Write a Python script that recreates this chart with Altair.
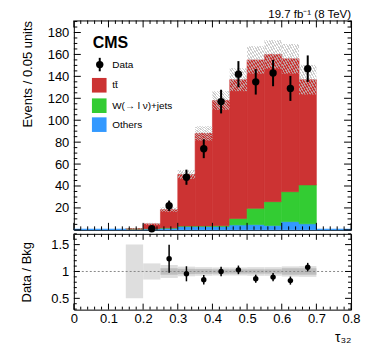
import altair as alt
import pandas as pd

# ---------------- data ----------------
bin_lo = [0.15, 0.20, 0.25, 0.30, 0.35, 0.40, 0.45, 0.50, 0.55, 0.60, 0.65]
others = [0.7, 1.0, 1.5, 3.0, 3.0, 3.0, 4.5, 4.8, 4.0, 7.5, 5.5]
wjets = [0.0, 0.0, 0.3, 0.5, 0.6, 0.8, 5.8, 14.8, 21.7, 27.3, 35.5]
ttbar = [0.3, 4.5, 16.7, 47.0, 84.4, 114.2, 126.7, 135.4, 134.3, 121.2, 96.0]
mc_unc = [0.5, 0.9, 2.0, 4.0, 6.5, 8.5, 10.5, 12.5, 13.0, 13.5, 13.5]

side_lo = [0.00, 0.05, 0.10, 0.70, 0.75]
side_others = [0.7, 0.7, 0.7, 0.7, 0.7]

data_x = [0.225, 0.275, 0.325, 0.375, 0.425, 0.475, 0.525, 0.575, 0.625, 0.675]
data_y = [1, 22, 48, 74, 117, 142, 135, 143, 129, 147]
data_err = [1.0, 4.7, 6.9, 8.6, 10.8, 11.9, 11.6, 12.0, 11.4, 12.1]

ratio_x = [0.275, 0.325, 0.375, 0.425, 0.475, 0.525, 0.575, 0.625, 0.675]
ratio_y = [1.235, 0.957, 0.846, 1.00, 1.03, 0.865, 0.895, 0.83, 1.08]
ratio_err = [0.26, 0.14, 0.09, 0.09, 0.08, 0.075, 0.075, 0.075, 0.08]
band_outer = [0.50, 0.15, 0.12, 0.09, 0.08, 0.075, 0.075, 0.08, 0.08, 0.095, 0.10]
band_inner = [0.0, 0.0, 0.06, 0.05, 0.045, 0.04, 0.04, 0.04, 0.04, 0.06, 0.06]

x_major = [0.0, 0.1, 0.2, 0.3, 0.4, 0.5, 0.6, 0.7, 0.8]
x_minor = [round(i * 0.02, 2) for i in range(41) if i % 5 != 0]
y_labels = [20, 40, 60, 80, 100, 120, 140, 160, 180]
y_major = [0, 20, 40, 60, 80, 100, 120, 140, 160, 180]
y_minor = [v for v in range(5, 191, 5) if v % 20 != 0]
r_major = [0.5, 1.0, 1.5]
r_minor = [round(0.3 + 0.1 * i, 1) for i in range(15) if round(0.3 + 0.1 * i, 1) not in (0.5, 1.0, 1.5)]

BW = 0.05
names = ["Others", "W(→ l ν)+jets", "tt\u0304"]
colors = ["#3399ff", "#33cc33", "#cc3333"]
RED, GREEN, BLUE = "#cc3333", "#33cc33", "#3399ff"
LUMI = "19.7 fb⁻¹ (8 TeV)"

W, H, HR = 278, 210, 76

# ---------------- tables ----------------
rows = []
for lo, o, w, t in zip(bin_lo, others, wjets, ttbar):
    rows.append({"lo": lo, "hi": lo + BW, "y0": 0, "y1": o, "c": names[0]})
    rows.append({"lo": lo, "hi": lo + BW, "y0": o, "y1": o + w, "c": names[1]})
    rows.append({"lo": lo, "hi": lo + BW, "y0": o + w, "y1": o + w + t, "c": names[2]})
for lo, o in zip(side_lo, side_others):
    rows.append({"lo": lo, "hi": lo + BW, "y0": 0, "y1": o, "c": names[0]})
stack = pd.DataFrame(rows)

tot = [o + w + t for o, w, t in zip(others, wjets, ttbar)]
hatch = pd.DataFrame({"lo": bin_lo, "hi": [b + BW for b in bin_lo],
                      "a": [t - u for t, u in zip(tot, mc_unc)],
                      "b": [t + u for t, u in zip(tot, mc_unc)]})
pts = pd.DataFrame({"x": data_x, "y": data_y,
                    "lo": [y - e for y, e in zip(data_y, data_err)],
                    "hi": [y + e for y, e in zip(data_y, data_err)]})
rpts = pd.DataFrame({"x": ratio_x, "y": ratio_y,
                     "lo": [y - e for y, e in zip(ratio_y, ratio_err)],
                     "hi": [y + e for y, e in zip(ratio_y, ratio_err)]})
bands = pd.DataFrame({"lo": bin_lo, "hi": [b + BW for b in bin_lo],
                      "oa": [1 - b for b in band_outer], "ob": [1 + b for b in band_outer],
                      "ia": [1 - b for b in band_inner], "ib": [1 + b for b in band_inner]})

xs = alt.Scale(domain=[0, 0.8], nice=False, zero=False)
ys = alt.Scale(domain=[0, 191], nice=False, zero=False)
rs = alt.Scale(domain=[0.29, 1.70], nice=False, zero=False)

# axes (same object reused on every layer that shares the scale)
AX_TOP_Y = alt.Axis(values=y_labels, ticks=False, domain=False, grid=False,
                    labelPadding=5, labelFontSize=13,
                    title="Events / 0.05 units", titleAnchor="end",
                    titleFontSize=13, titleFontWeight="normal", titlePadding=13)
AX_BOT_X = alt.Axis(values=x_major, format="~g", ticks=False, domain=False,
                    grid=False, labelFontSize=13, labelPadding=3,
                    labelFlush=False, title="τ₃₂", titleAnchor="end",
                    titleFontSize=14, titleFontWeight="normal", titlePadding=5)
AX_BOT_Y = alt.Axis(values=r_major, format="~g", ticks=False, domain=False,
                    grid=False, labelFontSize=13, labelPadding=5,
                    title="Data / Bkg", titleFontSize=13,
                    titleFontWeight="normal", titlePadding=17)


def hatch_fill(n=13, color="rgba(190,190,190,0.75)"):
    stops = []
    clear = "rgba(255,255,255,0)"
    for i in range(n):
        a, b, c = i / n, (i + 0.5) / n, (i + 1) / n
        stops += [{"offset": a, "color": color}, {"offset": b, "color": color},
                  {"offset": b, "color": clear}, {"offset": c, "color": clear}]
    return {"gradient": "linear", "x1": 0, "y1": 1, "x2": 1, "y2": 0, "stops": stops}


def tick_layers(xmaj, xmin, ymaj, ymin, yscale, height, xaxis, yaxis, xl=(7, 3.5), yl=(7, 3.5)):
    out = []
    for vals, ln in ((xmaj, xl[0]), (xmin, xl[1])):
        base = alt.Chart(pd.DataFrame({"t": vals})).mark_rule(color="black", strokeWidth=1)
        out.append(base.encode(x=alt.X("t:Q", scale=xs, axis=xaxis), y=alt.value(0), y2=alt.value(ln)))
        out.append(base.encode(x=alt.X("t:Q", scale=xs, axis=xaxis), y=alt.value(height), y2=alt.value(height - ln)))
    for vals, ln in ((ymaj, yl[0]), (ymin, yl[1])):
        base = alt.Chart(pd.DataFrame({"t": vals})).mark_rule(color="black", strokeWidth=1)
        out.append(base.encode(y=alt.Y("t:Q", scale=yscale, axis=yaxis), x=alt.value(0), x2=alt.value(ln)))
        out.append(base.encode(y=alt.Y("t:Q", scale=yscale, axis=yaxis), x=alt.value(W), x2=alt.value(W - ln)))
    return out


# ---------------- top panel ----------------
cscale = alt.Scale(domain=names, range=colors)
bars = alt.Chart(stack).mark_rect(strokeWidth=0.6).encode(
    x=alt.X("lo:Q", scale=xs, axis=None), x2="hi:Q",
    y=alt.Y("y0:Q", scale=ys, axis=AX_TOP_Y), y2="y1:Q",
    color=alt.Color("c:N", scale=cscale, legend=None),
    stroke=alt.Stroke("c:N", scale=cscale, legend=None),
)
hatch_l = alt.Chart(hatch).mark_rect(fill=hatch_fill()).encode(
    x=alt.X("lo:Q", scale=xs, axis=None), x2="hi:Q",
    y=alt.Y("a:Q", scale=ys, axis=AX_TOP_Y), y2="b:Q")
err = alt.Chart(pts).mark_rule(color="black", strokeWidth=2).encode(
    x=alt.X("x:Q", scale=xs, axis=None), y=alt.Y("lo:Q", scale=ys, axis=AX_TOP_Y), y2="hi:Q")
dots = alt.Chart(pts).mark_circle(color="black", size=55, opacity=1).encode(
    x=alt.X("x:Q", scale=xs, axis=None), y=alt.Y("y:Q", scale=ys, axis=AX_TOP_Y))

one = pd.DataFrame({"k": [0]})
leg = [
    alt.Chart(one).mark_text(text=LUMI, fontSize=11.5, align="right", baseline="alphabetic",
                             color="black").encode(x=alt.value(W), y=alt.value(-2)),
    alt.Chart(one).mark_text(text="CMS", fontSize=16, fontWeight="bold", align="left",
                             baseline="alphabetic", color="black").encode(x=alt.value(19), y=alt.value(28)),
    alt.Chart(one).mark_rule(color="black", strokeWidth=2).encode(x=alt.value(26), y=alt.value(37.5), y2=alt.value(51)),
    alt.Chart(one).mark_circle(color="black", size=55, opacity=1).encode(x=alt.value(26), y=alt.value(44.3)),
    alt.Chart(one).mark_text(text="Data", fontSize=10, align="left", baseline="middle").encode(x=alt.value(38.5), y=alt.value(44.5)),
    alt.Chart(one).mark_square(color=RED, size=215, opacity=1).encode(x=alt.value(25.5), y=alt.value(65)),
    alt.Chart(one).mark_text(text="tt\u0304", fontSize=10, align="left", baseline="middle").encode(x=alt.value(38.5), y=alt.value(65)),
    alt.Chart(one).mark_square(color=GREEN, size=215, opacity=1).encode(x=alt.value(25.5), y=alt.value(85.5)),
    alt.Chart(one).mark_text(text="W(→ l ν)+jets", fontSize=10, align="left", baseline="middle").encode(x=alt.value(38.5), y=alt.value(85.5)),
    alt.Chart(one).mark_square(color=BLUE, size=215, opacity=1).encode(x=alt.value(25.5), y=alt.value(104.5)),
    alt.Chart(one).mark_text(text="Others", fontSize=10, align="left", baseline="middle").encode(x=alt.value(38.5), y=alt.value(104.5)),
]

top = alt.layer(
    bars, hatch_l, err, dots,
    *tick_layers(x_major, x_minor, y_major, y_minor, ys, H, None, AX_TOP_Y),
    *leg,
).properties(width=W, height=H)

# ---------------- ratio panel ----------------
outer = alt.Chart(bands).mark_rect(color="#dedede").encode(
    x=alt.X("lo:Q", scale=xs, axis=AX_BOT_X), x2="hi:Q",
    y=alt.Y("oa:Q", scale=rs, axis=AX_BOT_Y), y2="ob:Q")
inner = alt.Chart(bands).mark_rect(color="#bdbdbd").encode(
    x=alt.X("lo:Q", scale=xs, axis=AX_BOT_X), x2="hi:Q",
    y=alt.Y("ia:Q", scale=rs, axis=AX_BOT_Y), y2="ib:Q")
unity = alt.Chart(one).mark_rule(color="#888888", strokeDash=[2, 2], strokeWidth=1).encode(
    x=alt.value(0), x2=alt.value(W), y=alt.datum(1.0, scale=rs, axis=AX_BOT_Y))
rerr = alt.Chart(rpts).mark_rule(color="black", strokeWidth=1.5).encode(
    x=alt.X("x:Q", scale=xs, axis=AX_BOT_X), y=alt.Y("lo:Q", scale=rs, axis=AX_BOT_Y), y2="hi:Q")
rdots = alt.Chart(rpts).mark_circle(color="black", size=30, opacity=1).encode(
    x=alt.X("x:Q", scale=xs, axis=AX_BOT_X), y=alt.Y("y:Q", scale=rs, axis=AX_BOT_Y))

bottom = alt.layer(
    outer, inner, unity, rerr, rdots,
    *tick_layers(x_major, x_minor, r_major, r_minor, rs, HR, AX_BOT_X, AX_BOT_Y, xl=(6, 3), yl=(6, 3)),
).properties(width=W, height=HR)

chart = alt.vconcat(top, bottom, spacing=4, bounds="flush").properties(
    padding={"left": 12, "top": 0, "right": 5, "bottom": 2}
).configure(font="Liberation Sans").configure_view(stroke="black", strokeWidth=1).configure_axis(
    labelColor="black", titleColor="black", labelFont="Liberation Sans", titleFont="Liberation Sans"
)

chart.save("out.html", embed_options={"renderer": "svg", "actions": False})
